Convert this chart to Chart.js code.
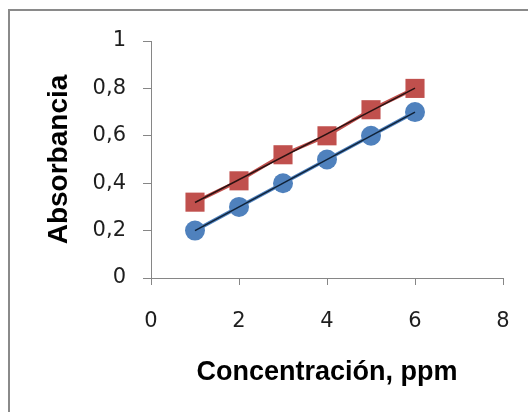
<!DOCTYPE html>
<html>
<head>
<meta charset="utf-8">
<script src="https://cdn.jsdelivr.net/npm/chart.js@4/dist/chart.umd.min.js"></script>
<style>
  html, body { margin: 0; padding: 0; background: #ffffff; overflow: hidden; }
  #wrap { position: relative; width: 528px; height: 412px; }
  #frame { position: absolute; left: 8px; top: 9px; width: 600px; height: 500px; border: 2px solid #8a8a8a; }
  #chart { position: absolute; left: 0; top: 0; }
</style>
</head>
<body>
<div id="wrap">
  <div id="frame"></div>
  <canvas id="chart" width="528" height="412"></canvas>
</div>
<script>
// Values
const concentracion = [1, 2, 3, 4, 5, 6];            // ppm
const absorbanciaAzul = [0.20, 0.30, 0.40, 0.50, 0.60, 0.70];
const absorbanciaRoja = [0.32, 0.41, 0.52, 0.60, 0.71, 0.80];

const xTitle = 'Concentración, ppm';
const yTitle = 'Absorbancia';

function toPoints(xs, ys) {
    return xs.map((x, i) => ({x: x, y: ys[i]}));
}

// least squares trend line (like the Excel linear trendline)
function trend(xs, ys) {
    const n = xs.length;
    const mx = xs.reduce((a, b) => a + b, 0) / n;
    const my = ys.reduce((a, b) => a + b, 0) / n;
    let sxy = 0, sxx = 0;
    for (let i = 0; i < n; i++) {
        sxy += (xs[i] - mx) * (ys[i] - my);
        sxx += (xs[i] - mx) * (xs[i] - mx);
    }
    const m = sxy / sxx;
    const b = my - m * mx;
    const x0 = Math.min(...xs), x1 = Math.max(...xs);
    return [{x: x0, y: m * x0 + b}, {x: x1, y: m * x1 + b}];
}

const tickFont = {family: 'DejaVu Sans', size: 21};
const tickColor = '#1e1e1e';
const axisGray = '#868686';

new Chart(document.getElementById('chart').getContext('2d'), {
    type: 'line',
    data: {
        datasets: [
            {   // red trendline
                data: trend(concentracion, absorbanciaRoja),
                borderColor: '#2a1212',
                borderWidth: 1.5,
                pointRadius: 0,
                order: 0
            },
            {   // blue trendline
                data: trend(concentracion, absorbanciaAzul),
                borderColor: '#0f2238',
                borderWidth: 1.5,
                pointRadius: 0,
                order: 0
            },
            {
                data: toPoints(concentracion, absorbanciaRoja),
                borderColor: '#C0504D',
                backgroundColor: '#C0504D',
                borderWidth: 3.5,
                pointStyle: 'rect',
                pointRadius: 13.5,
                pointBorderWidth: 0,
                order: 1
            },
            {
                data: toPoints(concentracion, absorbanciaAzul),
                borderColor: '#4F81BD',
                backgroundColor: '#4F81BD',
                borderWidth: 3.5,
                pointStyle: 'circle',
                pointRadius: 10,
                pointBorderWidth: 0,
                order: 1
            }
        ]
    },
    options: {
        responsive: false,
        animation: false,
        devicePixelRatio: 1,
        layout: {
            padding: {left: 42, top: 41, right: 25, bottom: 0}
        },
        plugins: {
            legend: {display: false},
            tooltip: {enabled: false}
        },
        scales: {
            x: {
                type: 'linear',
                min: 0,
                max: 8,
                afterFit: function(scale) {
                    scale.height = 134;
                    scale.paddingLeft = 0;
                    scale.paddingRight = 0;
                },
                ticks: {
                    stepSize: 2,
                    font: tickFont,
                    color: tickColor,
                    padding: 24
                },
                grid: {
                    drawOnChartArea: false,
                    tickLength: 7,
                    color: axisGray
                },
                border: {color: axisGray, width: 1},
                title: {
                    display: true,
                    text: xTitle,
                    font: {family: 'Liberation Sans', size: 27, weight: 'bold'},
                    color: '#000000',
                    padding: {top: 0, bottom: 23}
                }
            },
            y: {
                min: 0,
                max: 1,
                afterFit: function(scale) { scale.width = 109; },
                ticks: {
                    stepSize: 0.2,
                    font: tickFont,
                    color: tickColor,
                    padding: 17,
                    callback: function(value) {
                        return Number.isInteger(value) ? String(value) : value.toFixed(1).replace('.', ',');
                    }
                },
                grid: {
                    drawOnChartArea: false,
                    tickLength: 8,
                    color: axisGray
                },
                border: {color: axisGray, width: 1},
                title: {
                    display: true,
                    text: yTitle,
                    font: {family: 'Liberation Sans', size: 28, weight: 'bold'},
                    color: '#000000',
                    padding: {top: 0, bottom: 17}
                }
            }
        }
    }
});
</script>
</body>
</html>
